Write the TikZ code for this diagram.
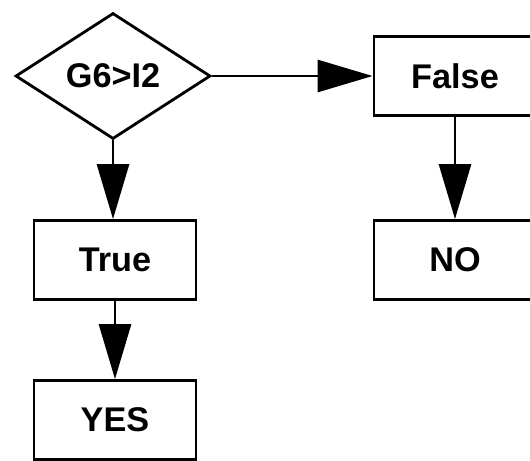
\documentclass[tikz,border=0pt]{standalone}
\usepackage{fontspec}
\setmainfont{Liberation Sans}
\usetikzlibrary{shapes.geometric,arrows.meta}

\begin{document}
\begin{tikzpicture}[x=0.02cm, y=-0.02cm,
        box/.style={draw, line width=1.6pt, minimum width=3.24cm, minimum height=1.58cm,
            font=\fontsize{19.5}{22}\selectfont\bfseries},
        test/.style={draw, diamond, line width=1.6pt, minimum width=3.9cm, minimum height=2.52cm,
            inner sep=0pt, font=\fontsize{19.5}{22}\selectfont\bfseries},
        flow/.style={line width=1.6pt, -{Triangle[length=1.1cm, width=0.64cm]}}]
        \clip (0,0) rectangle (530,460);

        % Drawing the test
        \node[test] (cond) at (113,76) {G6>I2};

        % Drawing the boxes
        \node[box] (true) at (115,260) {True};
        \node[box] (yes) at (115,420) {YES};
        \node[box] (false) at (455,76) {False};
        \node[box] (no) at (455,260) {NO};

        \draw[flow] (cond.south) -- (cond.south |- true.north);
        \draw[flow] (cond.east) -- (false.west);
        \draw[flow] (true.south) -- (yes.north);
        \draw[flow] (false.south) -- (no.north);
    \end{tikzpicture}
\end{document}
